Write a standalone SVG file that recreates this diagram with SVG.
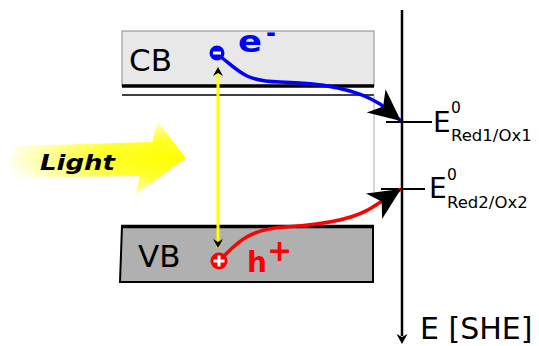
<svg xmlns="http://www.w3.org/2000/svg" width="539" height="346" viewBox="0 0 539 346">
<style>
.t{font-family:"DejaVu Sans","Liberation Sans",sans-serif;fill:#000}
</style>
<defs>
<radialGradient id="lg" gradientUnits="userSpaceOnUse" cx="175" cy="158" r="175" gradientTransform="translate(0 118.5) scale(1 0.25)">
<stop offset="0" stop-color="#ffff00"/>
<stop offset="0.45" stop-color="#ffff30"/>
<stop offset="1" stop-color="#ffffff"/>
</radialGradient>
<marker id="big" markerUnits="userSpaceOnUse" orient="auto" markerWidth="40" markerHeight="34" refX="32" refY="15" viewBox="0 0 40 34" overflow="visible">
<path d="M32,15 L0,0 L9,15 L0,30 Z" fill="#000"/>
</marker>
<marker id="sm" markerUnits="userSpaceOnUse" orient="auto-start-reverse" markerWidth="12" markerHeight="10" refX="9" refY="5" viewBox="0 0 12 10" overflow="visible">
<path d="M9,5 L0,0 L3,5 L0,10 Z" fill="#000"/>
</marker>
</defs>

<g id="light">
<path d="M15,146 L152,142 L158,122 L186,158 L135,195 L140,176 L7,178 Z" fill="url(#lg)"/>
<text class="t" x="40" y="170" font-size="21" font-weight="bold" font-style="italic" textLength="75" lengthAdjust="spacingAndGlyphs">Light</text>
</g>

<g id="cb">
<rect x="122" y="31" width="252" height="55" fill="#e8e8e8" stroke="#9a9a9a" stroke-width="1.2"/>
<line x1="122" y1="86" x2="374" y2="86" stroke="#000" stroke-width="3.5"/>
<line x1="122" y1="95" x2="374" y2="95" stroke="#000" stroke-width="1.6"/>
<line x1="374" y1="95" x2="374" y2="192" stroke="#aaa" stroke-width="1"/>
<text class="t" x="129" y="71" font-size="31">CB</text>
</g>

<g id="vb">
<path d="M122,226 L373,226 L373,282 L120,282 Z" fill="#b0b0b0" stroke="#000" stroke-width="2"/>
<line x1="121" y1="226.5" x2="374" y2="226.5" stroke="#000" stroke-width="3.5"/>
<text class="t" x="138" y="267" font-size="31">VB</text>
</g>

<g id="axis">
<line x1="402" y1="10" x2="402" y2="336" stroke="#000" stroke-width="2.5"/>
<path d="M402,344 L396.5,334 L402,337 L407.5,334 Z" fill="#000"/>
<line x1="386" y1="122" x2="432" y2="122" stroke="#000" stroke-width="2"/>
<line x1="381" y1="189" x2="425" y2="189" stroke="#000" stroke-width="2"/>
<text class="t" x="420" y="339" font-size="30">E [SHE]</text>
</g>

<g id="e1">
<text class="t" x="433" y="132" font-size="28">E</text>
<text class="t" x="451" y="113" font-size="15.5">0</text>
<text class="t" x="451" y="141" font-size="16.5">Red1/Ox1</text>
</g>
<g id="e2">
<text class="t" x="429" y="198" font-size="28">E</text>
<text class="t" x="447" y="180" font-size="15.5">0</text>
<text class="t" x="447" y="208" font-size="16.5">Red2/Ox2</text>
</g>

<g id="connectors">
<line x1="218" y1="67" x2="218" y2="248" stroke="#ffff00" stroke-width="3" marker-start="url(#sm)" marker-end="url(#sm)"/>
<path d="M221,57 C240,72 245,81 280,82 C320,83 355,88 380,104 L401,121" fill="none" stroke="#0000ff" stroke-width="3.5" marker-end="url(#big)"/>
<path d="M224,256 C238,242 250,229 285,227 C330,224 358,218 376,205 L401,189" fill="none" stroke="#ff0000" stroke-width="3.5" marker-end="url(#big)"/>
</g>

<g id="electron">
<circle cx="217" cy="53" r="7.5" fill="#0000ff"/>
<rect x="213" y="51.5" width="8" height="3" fill="#fff"/>
<text x="238" y="52" font-family="DejaVu Sans, sans-serif" font-size="30" font-weight="bold" fill="#0000ff" textLength="24" lengthAdjust="spacingAndGlyphs">e</text>
<text x="266" y="41" font-family="DejaVu Sans, sans-serif" font-size="24" font-weight="bold" fill="#0000ff">-</text>
</g>

<g id="hole">
<circle cx="219" cy="261" r="8.5" fill="#ff0000"/>
<rect x="213.5" y="259.5" width="11" height="3" fill="#fff"/>
<rect x="217.5" y="255.5" width="3" height="11" fill="#fff"/>
<text x="247" y="272" font-family="DejaVu Sans, sans-serif" font-size="28" font-weight="bold" fill="#ff0000">h<tspan font-size="30" dy="-11">+</tspan></text>
</g>
</svg>
